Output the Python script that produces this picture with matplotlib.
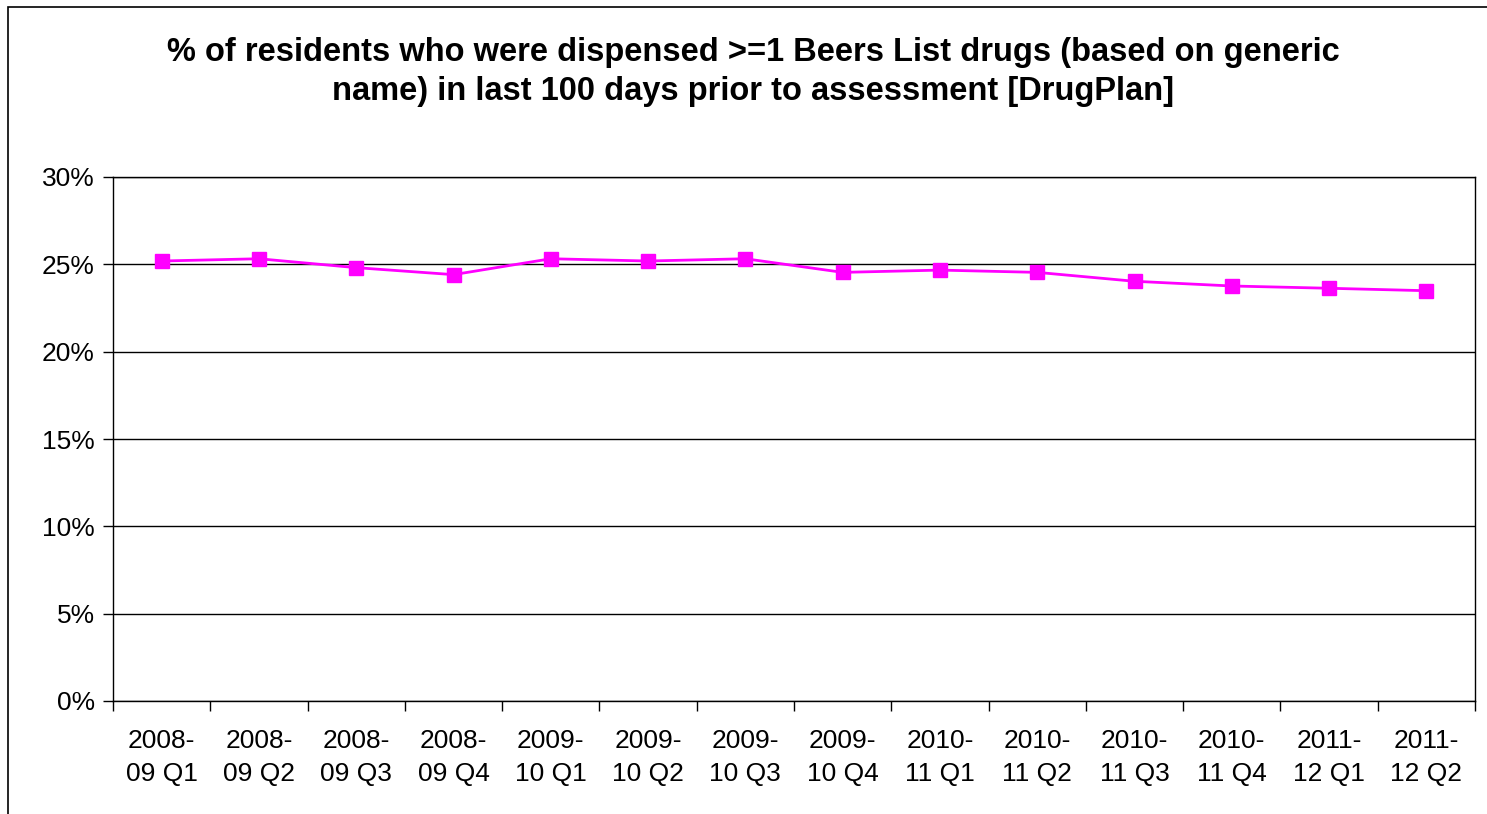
import matplotlib
matplotlib.use("Agg")
import matplotlib.pyplot as plt
from matplotlib.ticker import FuncFormatter, FixedLocator
import numpy as np

plt.rcParams['font.family'] = ['Liberation Sans', 'DejaVu Sans']

quarters = ["2008-\n09 Q1", "2008-\n09 Q2", "2008-\n09 Q3", "2008-\n09 Q4",
            "2009-\n10 Q1", "2009-\n10 Q2", "2009-\n10 Q3", "2009-\n10 Q4",
            "2010-\n11 Q1", "2010-\n11 Q2", "2010-\n11 Q3", "2010-\n11 Q4",
            "2011-\n12 Q1", "2011-\n12 Q2"]
pct = [25.19, 25.32, 24.81, 24.41, 25.32, 25.19, 25.32,
       24.54, 24.67, 24.54, 24.03, 23.76, 23.63, 23.49]

title = ("% of residents who were dispensed >=1 Beers List drugs (based on generic\n"
         "name) in last 100 days prior to assessment [DrugPlan]")

fig = plt.figure(figsize=(14.87, 8.14), dpi=100)
ax = fig.add_axes([113 / 1487, 1 - 701 / 814, (1475 - 113) / 1487, (701 - 177) / 814])

x = np.arange(len(pct))
ax.plot(x, pct, color="#FF00FF", lw=2, marker="s", ms=10, zorder=3)

ax.set_xlim(-0.5, len(pct) - 0.5)
ax.set_ylim(0, 30)
ax.set_yticks(np.arange(0, 31, 5))
ax.yaxis.set_major_formatter(FuncFormatter(lambda v, p: f"{v:.0f}%"))
ax.grid(axis="y", color="black", lw=1)
ax.set_axisbelow(True)

ax.set_xticks(x)
ax.set_xticklabels(quarters, fontsize=19, linespacing=1.5)
ax.tick_params(axis="x", which="major", length=0, pad=20)
ax.xaxis.set_minor_locator(FixedLocator(np.arange(-0.5, len(pct), 1)))
ax.tick_params(axis="x", which="minor", length=7, width=1, direction="out")
ax.tick_params(axis="y", labelsize=19, length=7, width=1, direction="out", pad=6)

for s in ax.spines.values():
    s.set_color("black")
    s.set_linewidth(1)

fig.text(753 / 1487, 1 - 72 / 814, title, ha="center", va="center",
         fontsize=23.5, fontweight="bold", linespacing=1.3)

# outer chart border
border = plt.Rectangle((8 / 1487, -0.01), 1.02, 1 - 7 / 814 + 0.01, transform=fig.transFigure,
                       fill=False, edgecolor="black", lw=1.2)
fig.patches.append(border)

fig.savefig("out.png", dpi=100)
